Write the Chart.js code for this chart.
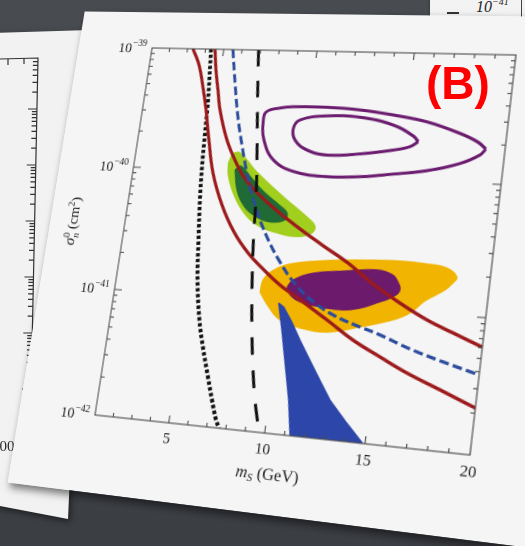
<!DOCTYPE html>
<html>
<head>
<meta charset="utf-8">
<script src="https://cdn.jsdelivr.net/npm/chart.js@4.4.1/dist/chart.umd.min.js"></script>
<style>
  html, body { margin: 0; padding: 0; width: 525px; height: 546px; overflow: hidden; }
  body { position: relative; background: linear-gradient(180deg, #484b50 0%, #42454a 40%, #3b3e43 100%); }
  #backSheet { position: absolute; left: 0; top: 0; }
  #backLabel { position: absolute; left: -8px; top: 438px; font: 15px 'Liberation Serif', 'Times New Roman', serif; color: #2a2a2a; }
  #topSheet { position: absolute; left: 430px; top: -2px; width: 100px; height: 26px; background: #f3f3f3;
              box-shadow: 0 1px 3px rgba(0,0,0,.45); font-family: 'Liberation Serif', 'Times New Roman', serif; color: #222; }
  #topSheet .tick { position: absolute; left: 17px; top: 14px; width: 12px; height: 1.6px; background: #333; }
  #topSheet .axis { position: absolute; left: 91px; top: 0; width: 1.4px; height: 26px; background: #444; }
  #topSheet .lbl { position: absolute; left: 46px; top: 1px; font-size: 16px; line-height: 16px; font-style: italic; }
  #topSheet .lbl sup { font-size: 10px; vertical-align: 7px; line-height: 0; }
  #sheet { position: absolute; left: 0; top: 0; transform-origin: 0 0; box-shadow: 3px 4px 8px rgba(0,0,0,.55); }
  #tag { position: absolute; left: 426px; top: 60px; font: bold 46px/46px 'Liberation Sans', Arial, sans-serif; color: #ff0000; }
</style>
</head>
<body>
<canvas id="backSheet" width="100" height="530"></canvas>
<div id="backLabel">100</div>
<div id="topSheet"><div class="tick"></div><div class="lbl">10<sup>−41</sup></div><div class="axis"></div></div>
<canvas id="sheet" width="512" height="488" style="width:512px;height:488px"></canvas>
<div id="tag">(B)</div>

<script>
// ---- axis ranges and tick labels ----
const X_RANGE = [1, 20];                 // m_S in GeV
const Y_RANGE = [1e-42, 1e-39];          // sigma_n in cm^2
const X_TICK_LABELS = [5, 10, 15, 20];
const Y_TICK_EXPONENTS = [-42, -41, -40, -39];

// ---- curves: [m_S (GeV), sigma (cm^2)] ----
const dottedBlack = [[4.30,1.00e-39],[4.55,3.77e-40],[4.65,2.02e-40],[4.76,1.06e-40],[4.91,5.76e-41],[5.15,2.75e-41],
  [5.41,1.33e-41],[5.82,6.49e-42],[6.21,4.03e-42],[6.70,2.39e-42],[7.08,1.61e-42],[7.43,1.15e-42],[7.65,1.00e-42]];
const dashedBlack = [[6.89,1.00e-39],[7.22,3.88e-40],[7.64,1.27e-40],[7.87,6.43e-41],[8.05,2.93e-41],[8.34,1.19e-41],
  [8.65,5.57e-42],[8.97,2.91e-42],[9.28,1.74e-42],[9.71,1.00e-42]];
const dashedBlue = [[5.50,1.00e-39],[5.88,5.29e-40],[6.30,2.79e-40],[6.73,1.66e-40],[7.21,9.91e-41],[7.87,5.55e-41],
  [8.67,3.26e-41],[9.58,2.04e-41],[10.56,1.38e-41],[11.64,1.03e-41],[12.73,8.44e-42],[13.78,7.42e-42],[14.96,6.56e-42],
  [16.59,5.32e-42],[18.24,4.48e-42],[20.00,3.80e-42]];
const redLower = [[3.30,1.00e-39],[3.77,7.33e-40],[4.18,4.73e-40],[4.52,3.12e-40],[4.92,1.77e-40],[5.40,9.61e-41],
  [6.13,5.37e-41],[6.97,3.32e-41],[7.86,2.31e-41],[8.70,1.79e-41],[9.75,1.35e-41],[10.87,1.07e-41],[12.36,7.79e-42],
  [13.77,5.71e-42],[15.20,4.44e-42],[16.59,3.52e-42],[18.25,2.79e-42],[20.00,2.18e-42]];
const redUpper = [[4.52,1.00e-39],[4.74,6.71e-40],[5.01,4.59e-40],[5.28,3.15e-40],[5.89,1.80e-40],[6.54,1.20e-40],
  [7.21,8.70e-41],[8.54,5.83e-41],[10.09,4.02e-41],[11.61,2.90e-41],[13.03,2.17e-41],[14.40,1.55e-41],[15.84,1.15e-41],
  [17.24,8.92e-42],[18.55,7.41e-42],[19.97,6.09e-42]];

// ---- closed contours and regions ----
const purpleOuter = [[19.08,1.84e-40],[18.83,1.65e-40],[17.92,1.40e-40],[16.34,1.20e-40],[14.72,1.10e-40],[13.07,1.02e-40],
  [11.38,9.92e-41],[9.63,1.06e-40],[8.50,1.29e-40],[7.86,1.85e-40],[7.68,2.68e-40],[7.79,3.14e-40],[8.47,3.39e-40],
  [9.16,3.50e-40],[10.90,3.53e-40],[12.63,3.43e-40],[14.34,3.19e-40],[16.04,2.88e-40],[17.74,2.39e-40],[18.66,2.07e-40]];
const purpleInner = [[15.75,2.00e-40],[15.37,1.82e-40],[14.56,1.69e-40],[12.92,1.54e-40],[11.23,1.47e-40],[10.17,1.59e-40],
  [9.49,1.89e-40],[9.32,2.34e-40],[9.61,2.75e-40],[10.96,3.01e-40],[12.68,3.00e-40],[14.40,2.66e-40],[15.47,2.21e-40]];
const greenOuter = [[6.14,1.17e-40],[6.32,1.39e-40],[6.69,1.43e-40],[7.72,1.02e-40],[9.29,6.63e-41],[10.63,4.73e-41],
  [11.12,4.04e-41],[11.02,3.55e-41],[10.28,3.27e-41],[9.22,3.42e-41],[8.13,3.86e-41],[7.31,4.83e-41],[6.64,6.73e-41],
  [6.23,9.39e-41]];
const greenInner = [[6.55,1.04e-40],[6.84,1.12e-40],[7.39,9.40e-41],[8.19,7.22e-41],[9.07,5.78e-41],[9.60,4.96e-41],
  [9.54,4.36e-41],[8.78,4.14e-41],[7.95,4.54e-41],[7.30,5.39e-41],[6.81,7.18e-41]];
const orangeRegion = [[8.77,1.16e-41],[8.84,1.45e-41],[9.24,1.72e-41],[10.11,1.99e-41],[11.61,2.18e-41],[13.61,2.32e-41],
  [15.58,2.39e-41],[16.91,2.34e-41],[17.89,2.23e-41],[18.42,1.93e-41],[18.22,1.70e-41],[17.92,1.52e-41],[17.03,1.23e-41],
  [16.38,9.83e-42],[15.60,8.52e-42],[14.04,7.22e-42],[12.46,6.30e-42],[11.06,6.52e-42],[9.99,7.29e-42],[9.28,9.18e-42]];
const purpleRegion = [[10.12,1.32e-41],[10.37,1.50e-41],[11.34,1.74e-41],[12.83,1.87e-41],[14.51,1.99e-41],[15.31,1.86e-41],
  [15.55,1.71e-41],[15.76,1.44e-41],[15.46,1.27e-41],[14.72,1.12e-41],[13.92,1.00e-41],[13.09,9.47e-42],[11.92,9.68e-42],
  [10.88,1.03e-41],[10.33,1.15e-41]];
const blueWedge = [[9.80,9.82e-42],[10.15,6.13e-42],[10.74,2.59e-42],[10.97,1.84e-42],[11.28,1.00e-42],[14.90,1.00e-42],
  [14.00,1.37e-42],[13.03,1.97e-42],[12.40,2.73e-42],[11.77,3.79e-42],[11.14,5.29e-42],[10.61,7.16e-42],[10.10,9.21e-42]];

// ---- colours ----
const C = {
  red: '#9c1a1c', blue: '#2b4b9c', black: '#111111', purpleLine: '#6b1c6f',
  lime: '#a2ce1e', darkGreen: '#1f6a35', orange: '#f1b400', purpleFill: '#6c1a6c', wedge: '#2c46aa'
};
const SERIF = "'Liberation Serif','Times New Roman',serif";

// where the corners of the plot frame sit on the page (sheet is tilted in perspective)
const PLOT_CORNERS = { tl: [152, 48], tr: [516, 55], br: [470, 455], bl: [95, 415] };

const toXY = pts => pts.map(([x, y]) => ({ x, y }));
const ring = pts => pts.concat([pts[0]]);

function curve(pts, color, width, dash, order) {
  return { data: toXY(pts), showLine: true, borderColor: color, borderWidth: width, borderDash: dash,
           borderCapStyle: 'butt', fill: false, pointRadius: 0, tension: 0.4, order };
}
function loop(pts, color, width, order) {
  return { data: toXY(ring(pts)), showLine: true, borderColor: color, borderWidth: width, fill: false,
           pointRadius: 0, tension: 0.4, order };
}
function region(pts, color, order, tension) {
  return { data: toXY(ring(pts)), showLine: true, borderColor: color, backgroundColor: color, borderWidth: 1,
           fill: 'shape', pointRadius: 0, tension, order };
}

// rich text: runs of {t, size, italic, dy, back}; "back" stacks a run under the previous one
function runFont(r) { return (r.italic ? 'italic ' : '') + r.size + 'px ' + SERIF; }
function richWidth(ctx, runs) {
  let cur = 0, start = 0;
  for (const r of runs) {
    ctx.font = runFont(r);
    const w = ctx.measureText(r.t).width;
    if (r.back) { cur = Math.max(cur, start + w); } else { start = cur; cur += w; }
  }
  return cur;
}
function drawRich(ctx, runs, x, y) {
  let cur = x, start = x;
  for (const r of runs) {
    ctx.font = runFont(r);
    const w = ctx.measureText(r.t).width;
    if (r.back) { ctx.fillText(r.t, start, y + (r.dy || 0)); cur = Math.max(cur, start + w); }
    else { start = cur; ctx.fillText(r.t, cur, y + (r.dy || 0)); cur += w; }
  }
}

const sheetBackground = {
  id: 'sheetBackground',
  beforeDraw(chart) {
    const { ctx, width, height } = chart;
    ctx.save();
    ctx.fillStyle = '#f5f5f5';
    ctx.fillRect(0, 0, width, height);
    ctx.restore();
  }
};

// boxed frame with inward ticks on all four sides, plus tick labels and axis titles
const framePlugin = {
  id: 'framePlugin',
  afterDatasetsDraw(chart) {
    const { ctx, chartArea: a, scales: { x, y } } = chart;
    ctx.save();
    ctx.strokeStyle = '#4d4d4d';
    ctx.lineWidth = 1.1;
    ctx.strokeRect(a.left, a.top, a.right - a.left, a.bottom - a.top);
    ctx.beginPath();
    for (let v = Math.ceil(x.min); v <= x.max; v++) {
      const px = x.getPixelForValue(v);
      const len = v % 5 === 0 ? 7 : 4;
      ctx.moveTo(px, a.bottom); ctx.lineTo(px, a.bottom - len);
      ctx.moveTo(px, a.top); ctx.lineTo(px, a.top + len);
    }
    const e0 = Math.round(Math.log10(y.min)), e1 = Math.round(Math.log10(y.max));
    for (let e = e0; e <= e1; e++) {
      for (let m = 1; m <= 9; m++) {
        const val = m * Math.pow(10, e);
        if (val > y.max * 1.0001) break;
        const py = y.getPixelForValue(val);
        const len = m === 1 ? 8 : 4;
        ctx.moveTo(a.left, py); ctx.lineTo(a.left + len, py);
        ctx.moveTo(a.right, py); ctx.lineTo(a.right - len, py);
      }
    }
    ctx.stroke();

    ctx.fillStyle = '#222';
    // x tick labels
    ctx.font = '15px ' + SERIF;
    ctx.textAlign = 'center';
    ctx.textBaseline = 'top';
    for (const v of X_TICK_LABELS) ctx.fillText(String(v), x.getPixelForValue(v), a.bottom + 8);

    // y tick labels as 10^n
    ctx.textAlign = 'left';
    ctx.textBaseline = 'alphabetic';
    for (const e of Y_TICK_EXPONENTS) {
      const py = y.getPixelForValue(Math.pow(10, e));
      const sup = '\u2212' + Math.abs(e);
      ctx.font = '10px ' + SERIF;
      const sw = ctx.measureText(sup).width;
      const right = a.left - 6;
      ctx.fillText(sup, right - sw, py - 2);
      ctx.font = '15px ' + SERIF;
      const bw = ctx.measureText('10').width;
      ctx.fillText('10', right - sw - bw - 0.5, py + 5);
    }

    // x axis title: m_S (GeV)
    const xt = [
      { t: 'm', size: 16, italic: true },
      { t: 'S', size: 11, italic: true, dy: 3 },
      { t: ' (GeV)', size: 16 }
    ];
    const cx = (a.left + a.right) / 2 - 2;
    drawRich(ctx, xt, cx - richWidth(ctx, xt) / 2, a.bottom + 43);

    // y axis title: sigma^0_n (cm^2)
    const yt = [
      { t: '\u03C3', size: 16, italic: true },
      { t: '0', size: 10, dy: -6 },
      { t: 'n', size: 10, italic: true, dy: 4, back: true },
      { t: ' (cm', size: 15 },
      { t: '2', size: 10, dy: -6 },
      { t: ')', size: 15 }
    ];
    ctx.translate(a.left - 52, a.top + 0.49 * (a.bottom - a.top));
    ctx.rotate(-Math.PI / 2);
    drawRich(ctx, yt, -richWidth(ctx, yt) / 2, 0);
    ctx.restore();
  }
};

// projective map of the unit square onto four page points
function squareToQuad(p0, p1, p2, p3) {
  const sx = p0[0] - p1[0] + p2[0] - p3[0], sy = p0[1] - p1[1] + p2[1] - p3[1];
  const dx1 = p1[0] - p2[0], dx2 = p3[0] - p2[0], dy1 = p1[1] - p2[1], dy2 = p3[1] - p2[1];
  const den = dx1 * dy2 - dx2 * dy1;
  const g = (sx * dy2 - dx2 * sy) / den, h = (dx1 * sy - sx * dy1) / den;
  return { a: p1[0] - p0[0] + g * p1[0], b: p3[0] - p0[0] + h * p3[0], c: p0[0],
           d: p1[1] - p0[1] + g * p1[1], e: p3[1] - p0[1] + h * p3[1], f: p0[1], g, h };
}

function tiltSheet(chart) {
  const ca = chart.chartArea;
  const q = squareToQuad(PLOT_CORNERS.tl, PLOT_CORNERS.tr, PLOT_CORNERS.br, PLOT_CORNERS.bl);
  const W = ca.right - ca.left, H = ca.bottom - ca.top, L = ca.left, T = ca.top;
  const m00 = q.a / W, m01 = q.b / H, m02 = q.c - q.a * L / W - q.b * T / H;
  const m10 = q.d / W, m11 = q.e / H, m12 = q.f - q.d * L / W - q.e * T / H;
  const m20 = q.g / W, m21 = q.h / H, m22 = 1 - q.g * L / W - q.h * T / H;
  const m = [m00, m10, 0, m20, m01, m11, 0, m21, 0, 0, 1, 0, m02, m12, 0, m22].map(v => v / m22);
  chart.canvas.style.transform = 'matrix3d(' + m.join(',') + ')';
}

const chart = new Chart(document.getElementById('sheet'), {
  type: 'scatter',
  data: {
    datasets: [
      region(greenOuter, C.lime, 20, 0.4),
      region(greenInner, C.darkGreen, 19, 0.4),
      region(orangeRegion, C.orange, 18, 0.4),
      region(purpleRegion, C.purpleFill, 17, 0.4),
      region(blueWedge, C.wedge, 16, 0),
      loop(purpleOuter, C.purpleLine, 3, 15),
      loop(purpleInner, C.purpleLine, 3, 14),
      curve(dottedBlack, C.black, 4, [3.4, 2.4], 13),
      curve(redLower, C.red, 3.2, [], 12),
      curve(redUpper, C.red, 3.2, [], 11),
      curve(dashedBlue, C.blue, 3, [9, 4], 10),
      curve(dashedBlack, C.black, 3, [17, 15], 9)
    ]
  },
  options: {
    responsive: false,
    devicePixelRatio: 2,
    animation: false,
    layout: { padding: { left: 82, top: 38, right: 60, bottom: 75 } },
    scales: {
      x: { type: 'linear', min: X_RANGE[0], max: X_RANGE[1], display: false },
      y: { type: 'logarithmic', min: Y_RANGE[0], max: Y_RANGE[1], display: false }
    },
    plugins: { legend: { display: false }, tooltip: { enabled: false } },
    events: []
  },
  plugins: [sheetBackground, framePlugin]
});
tiltSheet(chart);

// the sheet lying underneath on the left: blank page with its axis edge
(function drawBackSheet() {
  const c = document.getElementById('backSheet').getContext('2d');
  c.save();
  c.shadowColor = 'rgba(0,0,0,0.5)'; c.shadowBlur = 6; c.shadowOffsetX = 2; c.shadowOffsetY = 3;
  c.fillStyle = '#f2f2f2';
  c.beginPath(); c.moveTo(-5, 33); c.lineTo(90, 30); c.lineTo(68, 519); c.lineTo(-5, 505); c.closePath(); c.fill();
  c.restore();
  c.strokeStyle = '#333'; c.lineWidth = 1.2;
  c.beginPath(); c.moveTo(0, 59); c.lineTo(38, 58); c.lineTo(30, 445); c.stroke();
  const xAt = yy => 38 - (yy - 58) * 8 / 387;
  c.beginPath();
  for (let d = 0; d < 7; d++) {
    for (let m = 1; m <= 9; m++) {
      const yy = 445 - d * 56 - Math.log10(m) * 56;
      if (yy < 60) continue;
      const len = m === 1 ? 9 : 5;
      c.moveTo(xAt(yy), yy); c.lineTo(xAt(yy) - len, yy);
    }
  }
  c.moveTo(8, 59); c.lineTo(8, 65);
  c.moveTo(24, 58.5); c.lineTo(24, 64);
  c.stroke();
})();
</script>
</body>
</html>
